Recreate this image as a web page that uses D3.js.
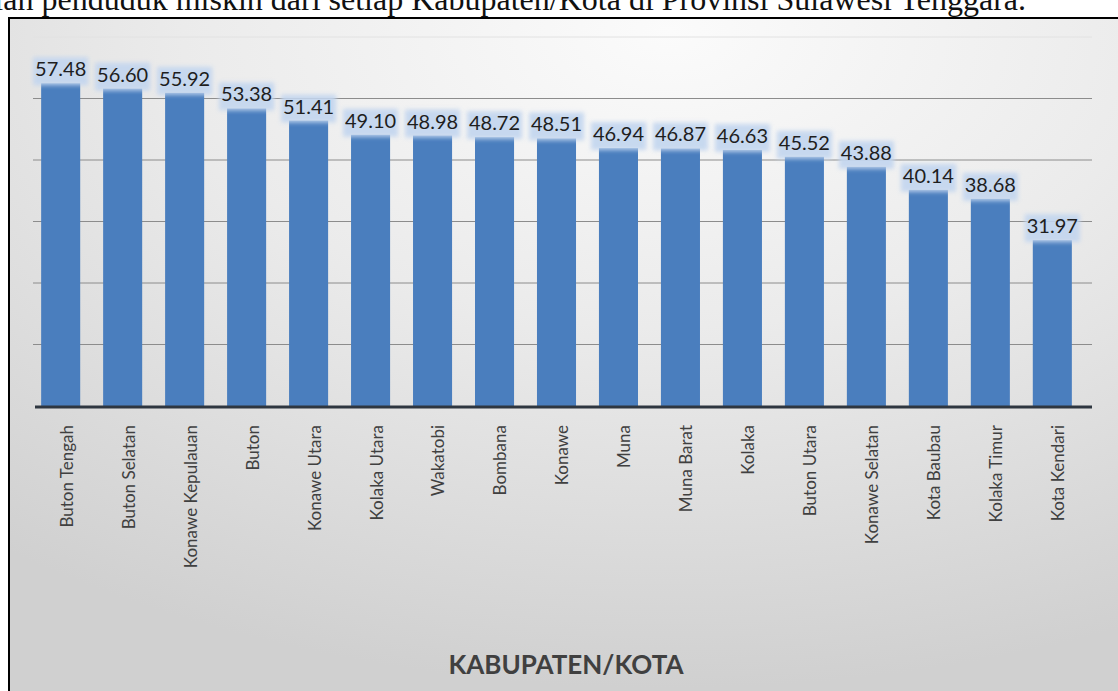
<!DOCTYPE html>
<html>
<head>
<meta charset="utf-8">
<script src="https://cdn.jsdelivr.net/npm/d3@7"></script>
<style>
  html, body { margin: 0; padding: 0; background: #ffffff; overflow: hidden; }
  svg { display: block; }
</style>
</head>
<body>
<svg id="chart" width="1118" height="691"></svg>
<script>
// data
const categories = ["Buton Tengah", "Buton Selatan", "Konawe Kepulauan", "Buton", "Konawe Utara",
  "Kolaka Utara", "Wakatobi", "Bombana", "Konawe", "Muna", "Muna Barat", "Kolaka",
  "Buton Utara", "Konawe Selatan", "Kota Baubau", "Kolaka Timur", "Kota Kendari"];
const values = [57.48, 56.60, 55.92, 53.38, 51.41, 49.10, 48.98, 48.72, 48.51, 46.94,
  46.87, 46.63, 45.52, 43.88, 40.14, 38.68, 31.97];
const yTicks = [5, 15, 25, 35, 45, 55, 65];
const captionText = "Jumlah penduduk miskin dari setiap Kabupaten/Kota di Provinsi Sulawesi Tenggara.";
const axisTitle = "KABUPATEN/KOTA";

const WIDTH = 1118;
const HEIGHT = 691;
const BAR_COLOR = "#4a7ebe";
const PLOT_LEFT = 33;
const PLOT_RIGHT = 1092;
const BASELINE = 406;
const PLOT_TOP = 37;

const svg = d3.select("#chart");
const defs = svg.append("defs");

//background gradient of the chart frame
const grad = defs.append("radialGradient")
  .attr("id", "bg-grad")
  .attr("cx", "58%").attr("cy", "2%").attr("r", "95%");
grad.append("stop").attr("offset", "0%").attr("stop-color", "#fbfbfb");
grad.append("stop").attr("offset", "45%").attr("stop-color", "#ebebeb");
grad.append("stop").attr("offset", "100%").attr("stop-color", "#d0d0d0");

const blur = defs.append("filter").attr("id", "halo")
  .attr("x", "-20%").attr("y", "-30%").attr("width", "140%").attr("height", "160%");
blur.append("feGaussianBlur").attr("stdDeviation", 2);

//caption text of the document, its top is cut off by the page edge
svg.append("text")
  .attr("x", 1026)
  .attr("y", 10)
  .attr("text-anchor", "end")
  .style("font-family", "'Liberation Serif', 'DejaVu Serif', serif")
  .style("font-size", "32px")
  .style("fill", "#111")
  .text(captionText);

//chart frame
svg.append("rect")
  .attr("x", 9)
  .attr("y", 18)
  .attr("width", WIDTH + 20)
  .attr("height", HEIGHT)
  .style("fill", "url(#bg-grad)")
  .style("stroke", "#000")
  .style("stroke-width", 2);

const x = d3.scaleBand()
  .domain(categories)
  .range([30, 1083])
  .paddingInner(0.37)
  .paddingOuter(0.18);

const y = d3.scaleLinear()
  .domain([5, 65])
  .range([BASELINE, PLOT_TOP]);

//horizontal gridlines
svg.append("g")
  .selectAll("line")
  .data(yTicks.slice(1))
  .join("line")
  .attr("x1", PLOT_LEFT)
  .attr("x2", PLOT_RIGHT)
  .attr("y1", d => y(d))
  .attr("y2", d => y(d))
  .style("stroke", (d) => d === 65 ? "#e2e2e2" : "#8c8c8c")
  .style("stroke-width", 1);

//bars
svg.append("g")
  .selectAll("rect")
  .data(values)
  .join("rect")
  .attr("x", (d, i) => x(categories[i]))
  .attr("y", d => y(d))
  .attr("width", x.bandwidth())
  .attr("height", d => BASELINE - y(d))
  .style("fill", BAR_COLOR);

//axis line
svg.append("line")
  .attr("x1", PLOT_LEFT + 2)
  .attr("x2", PLOT_RIGHT)
  .attr("y1", BASELINE + 1)
  .attr("y2", BASELINE + 1)
  .style("stroke", "#2e3640")
  .style("stroke-width", 3);

//value labels with light blue halo
const labels = svg.append("g")
  .selectAll("g")
  .data(values)
  .join("g");

const labelText = labels.append("text")
  .attr("x", (d, i) => x(categories[i]) + x.bandwidth() / 2)
  .attr("y", d => y(d) - 7)
  .attr("text-anchor", "middle")
  .style("font-family", "Lato, 'Open Sans', sans-serif")
  .style("font-size", "20px")
  .style("fill", "#1e1e1e")
  .text(d => d.toFixed(2));

labelText.each(function () {
  const box = this.getBBox();
  d3.select(this.parentNode)
    .insert("rect", "text")
    .attr("x", box.x - 2)
    .attr("y", box.y + 1)
    .attr("width", box.width + 4)
    .attr("height", box.height + 4)
    .style("fill", "#c3d6ef")
    .style("opacity", 0.9)
    .attr("filter", "url(#halo)");
});

//category labels, rotated
svg.append("g")
  .selectAll("text")
  .data(categories)
  .join("text")
  .attr("transform", d => `translate(${x(d) + x.bandwidth() / 2 + 6}, ${BASELINE + 19}) rotate(-90)`)
  .attr("dy", "0.35em")
  .attr("text-anchor", "end")
  .style("font-family", "Lato, 'Open Sans', sans-serif")
  .style("font-size", "17px")
  .style("fill", "#404040")
  .text(d => d);

//axis title
svg.append("text")
  .attr("x", 566)
  .attr("y", 674)
  .attr("text-anchor", "middle")
  .style("font-family", "Lato, 'Open Sans', sans-serif")
  .style("font-weight", "bold")
  .style("font-size", "26px")
  .style("fill", "#404040")
  .text(axisTitle);
</script>
</body>
</html>
